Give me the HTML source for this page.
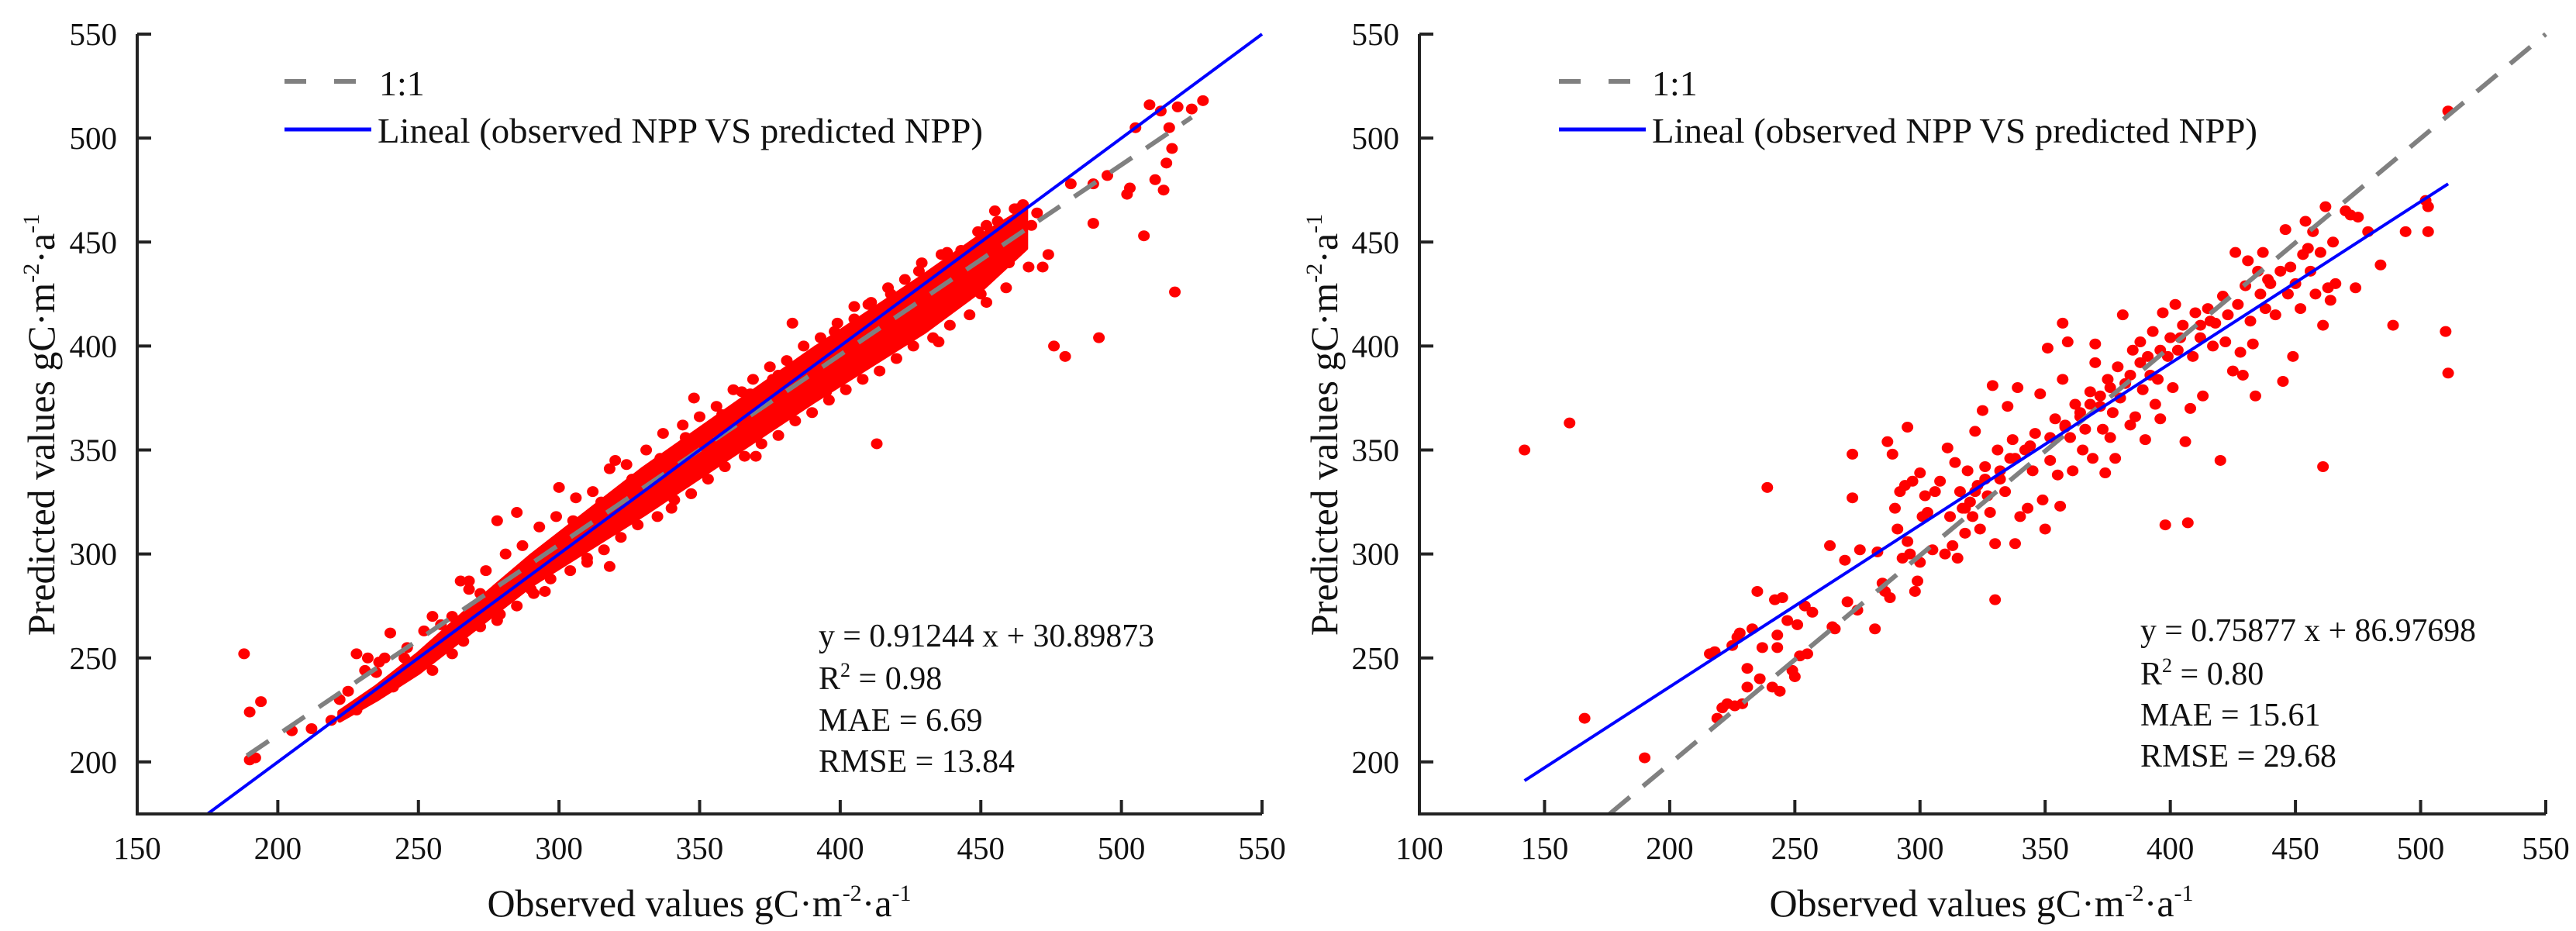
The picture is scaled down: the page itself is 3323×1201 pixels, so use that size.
<!DOCTYPE html>
<html><head><meta charset="utf-8"><style>
html,body{margin:0;padding:0;background:#fff;}
svg{display:block;font-family:"Liberation Serif",serif;}
</style></head><body>
<svg id="fig" width="3323" height="1201" viewBox="0 0 3323 1201" xmlns="http://www.w3.org/2000/svg">
<rect width="3323" height="1201" fill="#fff"/>
</svg>
<script>
// ---------- data ----------
const xTicksA = [150,200,250,300,350,400,450,500,550];
const xTicksB = [100,150,200,250,300,350,400,450,500,550];
const yTicks = [200,250,300,350,400,450,500,550];
// left panel: dense core band envelope
const bandObsA = [222,235,250,270,290,310,330,350,370,390,410,430,450,466];
const bandLowA = [220,230,243,264,285,302,319,337,355,373,390,407,427,447];
const bandHighA = [224,236,252,276,299,320,341,360,379,398,416,434,453,466];
const obsA = [188,190,192,190,194,205,212,219,228,232,236,240,252,255,262,265,268,278,278,285,290,295,300,310,318,320,330,340,348,355,365,370,383,378,395,413,410,425,435,440,450,455,460,465,472,474,476,480,482,490,492,490,495,502,503,508,512,515,516,518,519,520,514,517,525,529,510,505,470,468,445,447,225,235,245,258,272,283,296,305,315,326,336,345,358,368,376,388,398,405,418,428,438,452,462,222,248,276,288,302,342,362,392,402,422,432,442,458,
 231,238,246,262,268,274,281,287,293,299,306,312,318,324,331,337,344,350,356,362,369,375,381,387,393,399,405,411,417,423,429,436,443,449,456,463,
 228,241,255,266,272,279,285,291,297,304,310,316,322,328,335,341,347,353,359,366,372,378,384,390,396,402,408,414,420,426,433,439,446,452,459,467];
const predA = [252,224,202,201,229,215,216,220,252,250,248,262,263,270,252,287,287,316,268,320,283,282,332,298,294,345,322,322,375,352,378,347,411,386,378,353,420,405,402,420,425,465,440,468,438,444,400,395,478,478,404,459,482,473,476,453,480,475,488,495,426,515,513,505,514,518,516,505,464,458,440,430,234,243,250,266,281,288,298,316,325,336,346,356,367,377,384,393,407,413,425,436,445,458,466,230,248,275,292,308,340,368,398,402,416,433,437,453,
 244,250,255,270,283,292,300,304,313,318,327,330,341,343,350,358,362,366,371,379,384,390,393,400,404,411,419,421,428,432,440,444,446,455,460,466,
 225,236,244,258,265,271,275,281,288,292,296,302,308,314,318,326,329,336,342,347,353,357,364,368,374,379,384,388,394,400,404,410,415,421,428,438];
const lineObsA = [175,550];
const linePredA = [175,550];
const refObsA = [189,525];
const refPredA = [203,510];
// right panel
const obsB = [142,160,166,190,216,218,219,221,223,225,226,227,228,229,231,231,233,235,236,237,239,241,242,243,243,244,245,247,249,250,251,252,254,255,257,264,265,266,270,271,273,273,275,276,282,283,285,286,287,288,289,290,291,292,293,294,295,295,296,297,298,299,300,300,301,302,303,305,306,308,310,311,312,313,314,315,316,317,318,319,320,321,322,323,324,325,326,327,328,329,330,330,331,332,334,335,336,337,338,339,340,342,343,345,346,348,349,350,351,352,354,355,356,357,357,358,359,360,361,362,364,365,366,368,369,370,370,372,373,374,375,376,377,378,379,380,381,382,384,385,386,388,389,390,391,392,393,394,395,396,397,398,399,400,401,402,403,405,406,407,408,409,410,412,413,415,417,418,420,421,422,423,425,426,427,428,429,430,431,432,433,434,435,436,437,438,439,440,442,444,445,446,447,448,449,450,452,453,454,455,456,457,458,460,461,461,462,463,464,465,466,470,472,474,475,479,484,489,494,502,503,503,510,511,511,318,322,326,332,338,344,352,358,364,368,372,376,384,388,396,404,412,416];
const predB = [350,363,221,202,252,253,221,226,228,256,227,260,262,228,245,236,264,282,240,255,332,236,278,261,255,234,279,268,244,241,266,251,275,252,272,304,265,264,297,277,348,327,273,302,264,301,286,282,354,279,348,322,312,330,298,333,361,306,300,335,282,287,339,296,318,328,320,302,330,335,300,351,318,304,344,298,330,322,310,340,325,318,359,333,312,369,342,328,320,381,305,278,350,336,330,371,346,355,305,380,318,350,322,340,358,377,326,312,399,345,365,338,323,411,384,361,402,356,340,372,366,350,360,378,346,401,392,371,360,339,384,356,368,346,390,375,415,382,362,398,366,402,379,355,395,386,407,372,384,365,416,314,395,404,380,420,398,410,354,315,370,395,416,404,376,418,400,411,345,424,402,415,388,445,420,397,386,429,441,412,401,376,436,425,445,418,432,430,415,436,383,456,425,438,395,430,418,444,460,447,436,455,425,445,342,410,467,428,422,450,430,465,463,428,462,455,439,410,455,470,467,455,407,387,513,322,330,336,340,346,352,356,362,368,372,376,380,386,392,398,404,410,412];
const lineObsB = [142,511];
const linePredB = [191,478];
const refObsB = [176,550];
const refPredB = [175,550];

const NS = "http://www.w3.org/2000/svg";
const svg = document.getElementById('fig');
function mk(tag, attrs, parent){ const e=document.createElementNS(NS,tag); for(const k in attrs) e.setAttribute(k,attrs[k]); (parent||svg).appendChild(e); return e; }

function panel(cfg){
  const g = mk('g',{});
  
  
  const X = v => cfg.x0 + (v - cfg.xmin) * (cfg.x1 - cfg.x0) / (cfg.xmax - cfg.xmin);
  const Y = v => 1050 - (v - 175) * (1050 - 44) / (550 - 175);
  if (cfg.bandObs){
    let d = '';
    cfg.bandObs.forEach((o,i)=>{ d += (i?'L':'M') + X(o) + ' ' + Y(cfg.bandHigh[i]) + ' '; });
    for(let i=cfg.bandObs.length-1;i>=0;i--) d += 'L' + X(cfg.bandObs[i]) + ' ' + Y(cfg.bandLow[i]) + ' ';
    const b = mk('path',{d:d+'Z',fill:'#f00',stroke:'#f00','stroke-width':6,'stroke-linejoin':'round'},g);
    
    
  }
  cfg.obs.forEach((o,i)=>{
    const c = mk('ellipse',{cx:X(o),cy:Y(cfg.pred[i]),rx:7.5,ry:7,fill:'#f00'},g);
    
    
  });
  const r = mk('line',{x1:X(cfg.refObs[0]),y1:Y(cfg.refPred[0]),x2:X(cfg.refObs[1]),y2:Y(cfg.refPred[1]),stroke:'#808080','stroke-width':6,'stroke-dasharray':'34 22'},g);
  
  
  const l = mk('line',{x1:X(cfg.lineObs[0]),y1:Y(cfg.linePred[0]),x2:X(cfg.lineObs[1]),y2:Y(cfg.linePred[1]),stroke:'#0000ff','stroke-width':4},g);
  
  
  const ax = mk('path',{d:`M${cfg.x0} 44 L${cfg.x0} 1050 L${cfg.x1} 1050`,fill:'none',stroke:'#222','stroke-width':4},g);
  
  
  cfg.xTicks.forEach(t=>{
    mk('line',{x1:X(t),y1:1050,x2:X(t),y2:1032,stroke:'#222','stroke-width':4},g);
    const tx = mk('text',{x:X(t),y:1108,'font-size':41,'text-anchor':'middle',fill:'#111'},g);
    tx.textContent = t;
    
    
  });
  yTicks.forEach(t=>{
    mk('line',{x1:cfg.x0,y1:Y(t),x2:cfg.x0+18,y2:Y(t),stroke:'#222','stroke-width':4},g);
    const ty = mk('text',{x:cfg.x0-26,y:Y(t)+14,'font-size':41,'text-anchor':'end',fill:'#111'},g);
    ty.textContent = t;
    
    
  });
}
panel({name:'left-panel',x0:177,x1:1628,xmin:150,xmax:550,xTicks:xTicksA,obs:obsA,pred:predA,bandObs:bandObsA,bandLow:bandLowA,bandHigh:bandHighA,lineObs:lineObsA,linePred:linePredA,refObs:refObsA,refPred:refPredA});
panel({name:'right-panel',x0:1831,x1:3284,xmin:100,xmax:550,xTicks:xTicksB,obs:obsB,pred:predB,lineObs:lineObsB,linePred:linePredB,refObs:refObsB,refPred:refPredB});
</script>
<script>
(function(){
const NS="http://www.w3.org/2000/svg";
const svg=document.getElementById('fig');
const html = `
<g>
 <line x1="367" y1="105" x2="462" y2="105" stroke="#808080" stroke-width="6" stroke-dasharray="28 36"/>
 <text x="489" y="123" font-size="46" fill="#111">1:1</text>
 <line x1="367" y1="167" x2="479" y2="167" stroke="#0000ff" stroke-width="5"/>
 <text x="487" y="184" font-size="46" fill="#111" textLength="781" lengthAdjust="spacingAndGlyphs">Lineal (observed NPP VS predicted NPP)</text>
</g>
<g>
 <line x1="2011" y1="105" x2="2106" y2="105" stroke="#808080" stroke-width="6" stroke-dasharray="28 36"/>
 <text x="2131" y="123" font-size="46" fill="#111">1:1</text>
 <line x1="2011" y1="167" x2="2123" y2="167" stroke="#0000ff" stroke-width="5"/>
 <text x="2131" y="184" font-size="46" fill="#111" textLength="781" lengthAdjust="spacingAndGlyphs">Lineal (observed NPP VS predicted NPP)</text>
</g>
<g font-size="42" fill="#111">
 <text x="1056" y="834" textLength="433" lengthAdjust="spacingAndGlyphs">y = 0.91244 x + 30.89873</text>
 <text x="1056" y="889">R<tspan dy="-16" font-size="26">2</tspan><tspan dy="16"> = 0.98</tspan></text>
 <text x="1056" y="943">MAE = 6.69</text>
 <text x="1056" y="996" textLength="253" lengthAdjust="spacingAndGlyphs">RMSE = 13.84</text>
</g>
<g font-size="42" fill="#111">
 <text x="2761" y="827" textLength="433" lengthAdjust="spacingAndGlyphs">y = 0.75877 x + 86.97698</text>
 <text x="2761" y="883">R<tspan dy="-16" font-size="26">2</tspan><tspan dy="16"> = 0.80</tspan></text>
 <text x="2761" y="936">MAE = 15.61</text>
 <text x="2761" y="989" textLength="253" lengthAdjust="spacingAndGlyphs">RMSE = 29.68</text>
</g>
<text x="902" y="1182" font-size="50" text-anchor="middle" fill="#111">Observed values gC·m<tspan dy="-20" font-size="30">-2</tspan><tspan dy="20">·a</tspan><tspan dy="-20" font-size="30">-1</tspan></text>
<text x="2556" y="1182" font-size="50" text-anchor="middle" fill="#111">Observed values gC·m<tspan dy="-20" font-size="30">-2</tspan><tspan dy="20">·a</tspan><tspan dy="-20" font-size="30">-1</tspan></text>
<text transform="translate(70,548) rotate(-90)" font-size="50" text-anchor="middle" fill="#111">Predicted values gC·m<tspan dy="-20" font-size="30">-2</tspan><tspan dy="20">·a</tspan><tspan dy="-20" font-size="30">-1</tspan></text>
<text transform="translate(1725,548) rotate(-90)" font-size="50" text-anchor="middle" fill="#111">Predicted values gC·m<tspan dy="-20" font-size="30">-2</tspan><tspan dy="20">·a</tspan><tspan dy="-20" font-size="30">-1</tspan></text>`;
const g=document.createElementNS(NS,'g');


g.innerHTML=html;
svg.appendChild(g);
})();
</script>
</body></html>
